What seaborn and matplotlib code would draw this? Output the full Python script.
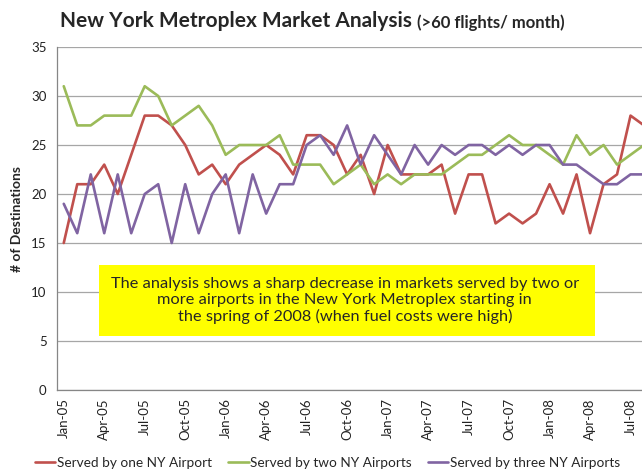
import pandas as pd
import seaborn as sns
import matplotlib.pyplot as plt
from matplotlib.patches import Rectangle

# monthly counts, Jan-05 .. Aug-08
months = pd.date_range("2005-01-01", periods=44, freq="MS").strftime("%b-%y").tolist()

one_airport = [15, 21, 21, 23, 20, 24, 28, 28, 27, 25, 22, 23,
               21, 23, 24, 25, 24, 22, 26, 26, 25, 22, 24, 20,
               25, 22, 22, 22, 23, 18, 22, 22, 17, 18, 17, 18,
               21, 18, 22, 16, 21, 22, 28, 27]
two_airports = [31, 27, 27, 28, 28, 28, 31, 30, 27, 28, 29, 27,
                24, 25, 25, 25, 26, 23, 23, 23, 21, 22, 23, 21,
                22, 21, 22, 22, 22, 23, 24, 24, 25, 26, 25, 25,
                24, 23, 26, 24, 25, 23, 24, 25]
three_airports = [19, 16, 22, 16, 22, 16, 20, 21, 15, 21, 16, 20,
                  22, 16, 22, 18, 21, 21, 25, 26, 24, 27, 23, 26,
                  24, 22, 25, 23, 25, 24, 25, 25, 24, 25, 24, 25,
                  25, 23, 23, 22, 21, 21, 22, 22]

series_names = ["Served by one NY Airport", "Served by two NY Airports",
                "Served by three NY Airports"]
colors = ["#C0504D", "#9BBB59", "#8064A2"]

note = ("The analysis shows a sharp decrease in markets served by two or\n"
        "more airports in the New York Metroplex starting in\n"
        "the spring of 2008 (when fuel costs were high)")

df = pd.DataFrame({
    "idx": list(range(len(months))) * 3,
    "value": one_airport + two_airports + three_airports,
    "series": [n for n in series_names for _ in months],
})

sns.set_style("white")
plt.rcParams["font.family"] = ["Lato", "DejaVu Sans"]

fig = plt.figure(figsize=(6.42, 4.73), dpi=100)
ax = fig.add_axes([0.0888, 0.1755, 0.9112, 0.7251])

sns.lineplot(data=df, x="idx", y="value", hue="series", hue_order=series_names,
             palette=dict(zip(series_names, colors)), linewidth=1.9, ax=ax,
             legend=False)

# right edge is cut off just before the last month, like the original
ax.set_xlim(-0.5, 42.85)
ax.set_ylim(0, 35)
ax.set_yticks(range(0, 36, 5))
ax.yaxis.grid(True, color="#A6A6A6", linewidth=0.9)
ax.set_axisbelow(True)
tick_pos = list(range(0, len(months), 3))
ax.set_xticks(tick_pos)
ax.set_xticklabels([months[i] for i in tick_pos], rotation=90)
ax.tick_params(axis="both", labelsize=9.5, colors="#222222", length=4,
               direction="out", width=0.8)
ax.tick_params(axis="x", length=0, pad=6)
for s in ["top", "right"]:
    ax.spines[s].set_visible(False)
for s in ["left", "bottom"]:
    ax.spines[s].set_color("#868686")
    ax.spines[s].set_linewidth(0.9)
ax.set_xlabel("")
ax.set_ylabel("# of Destinations", fontsize=10, fontweight="bold", labelpad=6)

title = fig.text(0.093, 0.942, "New York Metroplex Market Analysis", fontsize=15,
                 fontweight="bold", va="baseline", ha="left")
ax.annotate("(>60 flights/ month)", xy=(1, 0), xycoords=title, xytext=(4, 0),
            textcoords="offset points", fontsize=12, fontweight="bold",
            va="bottom", ha="left", annotation_clip=False)

# yellow note box
fig.patches.append(Rectangle((0.154, 0.290), 0.773, 0.150, transform=fig.transFigure,
                             facecolor="#FFFF00", edgecolor="none", zorder=3))
fig.text(0.537, 0.365, note, ha="center", va="center", fontsize=11.8,
         linespacing=1.2, zorder=4)

handles = [plt.Line2D([], [], color=c, linewidth=1.9) for c in colors]
fig.legend(handles, series_names, loc="center", bbox_to_anchor=(0.51, 0.021),
           ncol=3, frameon=False, fontsize=9.8, handlelength=1.5,
           handletextpad=0.1, columnspacing=1.2)

fig.savefig("out.png", dpi=100)
